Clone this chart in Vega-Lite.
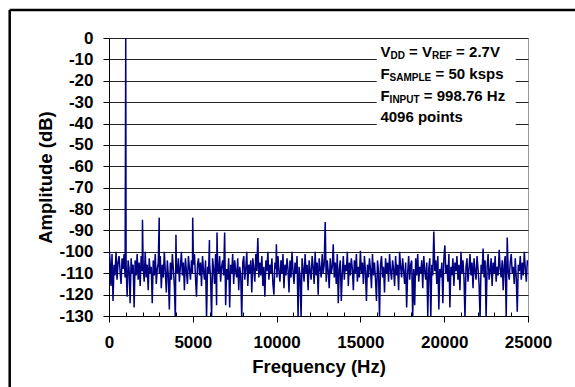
{
  "$schema": "https://vega.github.io/schema/vega-lite/v6.json",
  "width": 419,
  "height": 278,
  "autosize": "none",
  "padding": {"left": 109, "top": 38, "right": 47, "bottom": 71},
  "background": "white",
  "config": {
    "view": {"stroke": "#999999", "strokeWidth": 1},
    "font": "Liberation Sans"
  },
  "layer": [
    {
      "data": {"values": [
        {"f":0,"a":-97},{"f":60,"a":-104},{"f":120,"a":-116},{"f":180,"a":-101},{"f":240,"a":-123},{"f":300,"a":-106},{"f":360,"a":-111},{"f":420,"a":-100},{"f":480,"a":-113},{"f":540,"a":-105},
        {"f":600,"a":-102},{"f":660,"a":-109},{"f":720,"a":-115},{"f":780,"a":-103},{"f":840,"a":-108},{"f":900,"a":-101},{"f":960,"a":-112},{"f":999,"a":0},{"f":1020,"a":-106},{"f":1080,"a":-121},{"f":1140,"a":-104},
        {"f":1200,"a":-108},{"f":1260,"a":-124},{"f":1320,"a":-103},{"f":1380,"a":-110},{"f":1440,"a":-106},{"f":1500,"a":-126},{"f":1560,"a":-104},{"f":1620,"a":-111},{"f":1680,"a":-101},{"f":1740,"a":-113},
        {"f":1800,"a":-105},{"f":1860,"a":-116},{"f":1920,"a":-102},{"f":1980,"a":-109},{"f":1998,"a":-85},{"f":2040,"a":-107},{"f":2100,"a":-114},{"f":2160,"a":-100},{"f":2220,"a":-112},{"f":2280,"a":-106},{"f":2340,"a":-118},
        {"f":2400,"a":-103},{"f":2460,"a":-110},{"f":2520,"a":-107},{"f":2580,"a":-124},{"f":2640,"a":-104},{"f":2700,"a":-111},{"f":2760,"a":-101},{"f":2820,"a":-115},{"f":2880,"a":-108},{"f":2940,"a":-105},{"f":2996,"a":-84},
        {"f":3000,"a":-110},{"f":3060,"a":-102},{"f":3120,"a":-117},{"f":3180,"a":-106},{"f":3240,"a":-112},{"f":3300,"a":-100},{"f":3360,"a":-109},{"f":3420,"a":-119},{"f":3480,"a":-104},{"f":3540,"a":-111},
        {"f":3600,"a":-127},{"f":3660,"a":-105},{"f":3720,"a":-113},{"f":3780,"a":-101},{"f":3840,"a":-108},{"f":3900,"a":-116},{"f":3960,"a":-132},{"f":3995,"a":-92},{"f":4020,"a":-106},{"f":4080,"a":-110},{"f":4140,"a":-103},
        {"f":4200,"a":-114},{"f":4260,"a":-107},{"f":4320,"a":-100},{"f":4380,"a":-111},{"f":4440,"a":-105},{"f":4500,"a":-118},{"f":4560,"a":-103},{"f":4620,"a":-109},{"f":4680,"a":-115},{"f":4740,"a":-102},
        {"f":4800,"a":-108},{"f":4860,"a":-113},{"f":4920,"a":-104},{"f":4980,"a":-110},{"f":4994,"a":-84},{"f":5040,"a":-106},{"f":5100,"a":-101},{"f":5160,"a":-112},{"f":5220,"a":-121},{"f":5280,"a":-106},{"f":5340,"a":-103},
        {"f":5400,"a":-111},{"f":5460,"a":-105},{"f":5520,"a":-116},{"f":5580,"a":-102},{"f":5640,"a":-109},{"f":5700,"a":-113},{"f":5760,"a":-104},{"f":5820,"a":-131},{"f":5880,"a":-107},{"f":5940,"a":-110},{"f":5993,"a":-94.5},
        {"f":6000,"a":-105},{"f":6060,"a":-112},{"f":6120,"a":-131},{"f":6180,"a":-103},{"f":6240,"a":-108},{"f":6300,"a":-115},{"f":6360,"a":-101},{"f":6420,"a":-125},{"f":6444,"a":-91},{"f":6480,"a":-106},{"f":6540,"a":-110},
        {"f":6600,"a":-102},{"f":6660,"a":-114},{"f":6720,"a":-107},{"f":6780,"a":-104},{"f":6840,"a":-111},{"f":6900,"a":-91},{"f":6960,"a":-125},{"f":7020,"a":-108},{"f":7080,"a":-113},{"f":7140,"a":-103},
        {"f":7200,"a":-126},{"f":7260,"a":-106},{"f":7320,"a":-110},{"f":7380,"a":-101},{"f":7440,"a":-115},{"f":7500,"a":-104},{"f":7560,"a":-109},{"f":7620,"a":-112},{"f":7680,"a":-103},{"f":7740,"a":-118},
        {"f":7800,"a":-107},{"f":7860,"a":-111},{"f":7920,"a":-131},{"f":7980,"a":-105},{"f":8040,"a":-102},{"f":8100,"a":-113},{"f":8160,"a":-108},{"f":8220,"a":-100},{"f":8280,"a":-116},{"f":8340,"a":-106},
        {"f":8400,"a":-110},{"f":8460,"a":-104},{"f":8520,"a":-119},{"f":8580,"a":-103},{"f":8640,"a":-108},{"f":8700,"a":-114},{"f":8760,"a":-101},{"f":8820,"a":-109},{"f":8880,"a":-93.5},{"f":8940,"a":-112},
        {"f":9000,"a":-105},{"f":9060,"a":-111},{"f":9120,"a":-102},{"f":9180,"a":-116},{"f":9240,"a":-107},{"f":9300,"a":-121},{"f":9360,"a":-104},{"f":9420,"a":-109},{"f":9480,"a":-100},{"f":9540,"a":-113},
        {"f":9600,"a":-106},{"f":9660,"a":-110},{"f":9720,"a":-103},{"f":9780,"a":-115},{"f":9840,"a":-120},{"f":9900,"a":-105},{"f":9960,"a":-108},{"f":9988,"a":-96.5},{"f":10020,"a":-112},{"f":10080,"a":-102},{"f":10140,"a":-109},
        {"f":10200,"a":-114},{"f":10260,"a":-104},{"f":10320,"a":-110},{"f":10380,"a":-101},{"f":10440,"a":-117},{"f":10500,"a":-106},{"f":10560,"a":-111},{"f":10620,"a":-103},{"f":10680,"a":-108},{"f":10740,"a":-119},
        {"f":10800,"a":-104},{"f":10860,"a":-112},{"f":10920,"a":-100},{"f":10980,"a":-109},{"f":11040,"a":-115},{"f":11100,"a":-105},{"f":11160,"a":-110},{"f":11220,"a":-102},{"f":11280,"a":-131},{"f":11340,"a":-107},
        {"f":11400,"a":-111},{"f":11460,"a":-131},{"f":11520,"a":-103},{"f":11580,"a":-108},{"f":11640,"a":-114},{"f":11700,"a":-101},{"f":11760,"a":-110},{"f":11820,"a":-106},{"f":11880,"a":-118},{"f":11940,"a":-104},
        {"f":12000,"a":-109},{"f":12060,"a":-113},{"f":12120,"a":-102},{"f":12180,"a":-107},{"f":12240,"a":-115},{"f":12300,"a":-100},{"f":12360,"a":-111},{"f":12420,"a":-105},{"f":12480,"a":-120},{"f":12540,"a":-103},
        {"f":12600,"a":-108},{"f":12660,"a":-112},{"f":12720,"a":-101},{"f":12780,"a":-110},{"f":12840,"a":-106},{"f":12900,"a":-86},{"f":12960,"a":-114},{"f":13020,"a":-104},{"f":13080,"a":-109},{"f":13140,"a":-117},
        {"f":13200,"a":-103},{"f":13260,"a":-110},{"f":13320,"a":-107},{"f":13380,"a":-96.5},{"f":13440,"a":-112},{"f":13500,"a":-105},{"f":13560,"a":-115},{"f":13620,"a":-101},{"f":13680,"a":-124},{"f":13740,"a":-108},
        {"f":13800,"a":-104},{"f":13860,"a":-123},{"f":13920,"a":-110},{"f":13980,"a":-102},{"f":14040,"a":-113},{"f":14100,"a":-106},{"f":14160,"a":-109},{"f":14220,"a":-100},{"f":14280,"a":-116},{"f":14340,"a":-105},
        {"f":14400,"a":-111},{"f":14460,"a":-103},{"f":14520,"a":-108},{"f":14580,"a":-118},{"f":14640,"a":-104},{"f":14700,"a":-110},{"f":14760,"a":-101},{"f":14820,"a":-114},{"f":14880,"a":-107},{"f":14940,"a":-112},
        {"f":15000,"a":-99.5},{"f":15060,"a":-110},{"f":15120,"a":-105},{"f":15180,"a":-115},{"f":15240,"a":-102},{"f":15300,"a":-109},{"f":15360,"a":-123},{"f":15420,"a":-106},{"f":15480,"a":-112},{"f":15540,"a":-103},
        {"f":15600,"a":-108},{"f":15660,"a":-117},{"f":15720,"a":-101},{"f":15780,"a":-111},{"f":15840,"a":-105},{"f":15900,"a":-113},{"f":15960,"a":-123},{"f":16020,"a":-104},{"f":16080,"a":-109},{"f":16140,"a":-131},
        {"f":16200,"a":-106},{"f":16260,"a":-102},{"f":16320,"a":-112},{"f":16380,"a":-107},{"f":16440,"a":-119},{"f":16500,"a":-103},{"f":16560,"a":-110},{"f":16620,"a":-105},{"f":16680,"a":-114},{"f":16740,"a":-101},
        {"f":16800,"a":-109},{"f":16860,"a":-113},{"f":16920,"a":-104},{"f":16980,"a":-108},{"f":17040,"a":-116},{"f":17100,"a":-102},{"f":17160,"a":-111},{"f":17220,"a":-106},{"f":17280,"a":-118},{"f":17340,"a":-100},
        {"f":17400,"a":-107},{"f":17460,"a":-112},{"f":17520,"a":-103},{"f":17580,"a":-109},{"f":17640,"a":-115},{"f":17700,"a":-105},{"f":17760,"a":-126},{"f":17820,"a":-110},{"f":17880,"a":-102},{"f":17940,"a":-113},
        {"f":18000,"a":-106},{"f":18060,"a":-104},{"f":18120,"a":-131},{"f":18180,"a":-108},{"f":18240,"a":-125},{"f":18300,"a":-103},{"f":18360,"a":-111},{"f":18420,"a":-101},{"f":18480,"a":-114},{"f":18540,"a":-107},
        {"f":18600,"a":-110},{"f":18660,"a":-104},{"f":18720,"a":-117},{"f":18780,"a":-102},{"f":18840,"a":-109},{"f":18900,"a":-113},{"f":18960,"a":-105},{"f":19020,"a":-130},{"f":19080,"a":-108},{"f":19140,"a":-103},
        {"f":19200,"a":-131},{"f":19260,"a":-106},{"f":19320,"a":-111},{"f":19380,"a":-90.5},{"f":19440,"a":-109},{"f":19500,"a":-104},{"f":19560,"a":-115},{"f":19620,"a":-102},{"f":19680,"a":-127},{"f":19740,"a":-108},
        {"f":19800,"a":-112},{"f":19860,"a":-105},{"f":19920,"a":-124},{"f":19980,"a":-103},{"f":20040,"a":-97},{"f":20100,"a":-110},{"f":20160,"a":-106},{"f":20220,"a":-114},{"f":20280,"a":-101},{"f":20340,"a":-126},
        {"f":20400,"a":-107},{"f":20460,"a":-111},{"f":20520,"a":-103},{"f":20580,"a":-116},{"f":20640,"a":-105},{"f":20700,"a":-109},{"f":20760,"a":-102},{"f":20820,"a":-113},{"f":20880,"a":-106},{"f":20940,"a":-118},
        {"f":21000,"a":-100},{"f":21060,"a":-110},{"f":21120,"a":-104},{"f":21180,"a":-112},{"f":21240,"a":-131},{"f":21300,"a":-107},{"f":21360,"a":-103},{"f":21420,"a":-114},{"f":21480,"a":-108},{"f":21540,"a":-101},
        {"f":21600,"a":-111},{"f":21660,"a":-105},{"f":21720,"a":-117},{"f":21780,"a":-103},{"f":21840,"a":-109},{"f":21900,"a":-113},{"f":21960,"a":-102},{"f":22020,"a":-108},{"f":22080,"a":-115},{"f":22140,"a":-131},
        {"f":22200,"a":-106},{"f":22260,"a":-110},{"f":22320,"a":-98.5},{"f":22380,"a":-112},{"f":22440,"a":-104},{"f":22500,"a":-131},{"f":22560,"a":-107},{"f":22620,"a":-101},{"f":22680,"a":-113},{"f":22740,"a":-109},
        {"f":22800,"a":-103},{"f":22860,"a":-116},{"f":22920,"a":-105},{"f":22980,"a":-110},{"f":23040,"a":-102},{"f":23100,"a":-114},{"f":23160,"a":-107},{"f":23220,"a":-111},{"f":23280,"a":-99},{"f":23340,"a":-108},
        {"f":23400,"a":-112},{"f":23460,"a":-104},{"f":23520,"a":-118},{"f":23580,"a":-106},{"f":23640,"a":-102},{"f":23700,"a":-131},{"f":23760,"a":-93.3},{"f":23820,"a":-109},{"f":23880,"a":-113},{"f":23940,"a":-105},
        {"f":24000,"a":-101},{"f":24060,"a":-110},{"f":24120,"a":-107},{"f":24180,"a":-115},{"f":24240,"a":-103},{"f":24300,"a":-112},{"f":24360,"a":-128},{"f":24420,"a":-106},{"f":24480,"a":-109},{"f":24540,"a":-102},
        {"f":24600,"a":-113},{"f":24660,"a":-105},{"f":24720,"a":-111},{"f":24780,"a":-100},{"f":24840,"a":-108},{"f":24900,"a":-114},{"f":24960,"a":-104},{"f":25000,"a":-106}
      ]},
      "mark": {"type": "line", "color": "#000080", "strokeWidth": 1.5, "clip": true},
      "encoding": {
        "x": {
          "field": "f", "type": "quantitative",
          "scale": {"domain": [0, 25000], "nice": false, "zero": false},
          "title": "Frequency (Hz)",
          "axis": {
            "values": [0,1000,2000,3000,4000,5000,6000,7000,8000,9000,10000,11000,12000,13000,14000,15000,16000,17000,18000,19000,20000,21000,22000,23000,24000,25000],
            "tickCount": 100,
            "labelExpr": "datum.value % 5000 === 0 ? toString(datum.value) : ''",
            "tickSize": {"condition": {"test": "datum.value % 5000 === 0", "value": 6}, "value": -4},
            "grid": false,
            "domainColor": "#000000",
            "tickColor": "#000000",
            "labelColor": "#000000",
            "labelFont": "Liberation Sans",
            "labelFontWeight": "bold",
            "labelFontSize": 17,
            "labelPadding": 12,
            "labelFlush": false,
            "labelOverlap": false,
            "titleFont": "Liberation Sans",
            "titleFontWeight": "bold",
            "titleFontSize": 18.5,
            "titleColor": "#000000",
            "titlePadding": 7
          }
        },
        "y": {
          "field": "a", "type": "quantitative",
          "scale": {"domain": [-130, 0], "nice": false, "zero": false},
          "title": "Amplitude (dB)",
          "axis": {
            "values": [-130,-120,-110,-100,-90,-80,-70,-60,-50,-40,-30,-20,-10,0],
            "tickCount": 100,
            "labelExpr": "toString(datum.value)",
            "labelOverlap": false,
            "tickSize": 6,
            "grid": true,
            "gridColor": "#222222",
            "gridWidth": 1,
            "domainColor": "#000000",
            "tickColor": "#000000",
            "labelColor": "#000000",
            "labelFont": "Liberation Sans",
            "labelFontWeight": "bold",
            "labelFontSize": 17,
            "labelPadding": 10,
            "titleFont": "Liberation Sans",
            "titleFontWeight": "bold",
            "titleFontSize": 18.5,
            "titleColor": "#000000",
            "titlePadding": 3
          }
        }
      }
    },
    {
      "data": {"values": [{}]},
      "mark": {"type": "rule", "stroke": "#000000", "strokeWidth": 2.5, "clip": false},
      "encoding": {
        "x": {"datum": -5925, "type": "quantitative"},
        "y": {"datum": 13.1, "type": "quantitative"},
        "y2": {"datum": -220}
      }
    },
    {
      "data": {"values": [{}]},
      "mark": {"type": "rule", "stroke": "#000000", "strokeWidth": 2.5, "clip": false},
      "encoding": {
        "x": {"datum": -5925, "type": "quantitative"},
        "x2": {"datum": 40000},
        "y": {"datum": 13.1, "type": "quantitative"}
      }
    },
    {
      "data": {"values": [{}]},
      "mark": {"type": "rect", "fill": "white", "strokeWidth": 0},
      "encoding": {
        "x": {"datum": 15974, "type": "quantitative"},
        "x2": {"datum": 24268},
        "y": {"datum": -1.3, "type": "quantitative"},
        "y2": {"datum": -42}
      }
    },
    {
      "data": {"values": [
        {"t": "V", "f": 16194, "a": -8.7},
        {"t": "= V", "f": 17900, "a": -8.7},
        {"t": "= 2.7V", "f": 20711, "a": -8.7},
        {"t": "F", "f": 16194, "a": -19.3},
        {"t": "= 50 ksps", "f": 19482, "a": -19.3},
        {"t": "F", "f": 16194, "a": -29.4},
        {"t": "= 998.76 Hz", "f": 18784, "a": -29.4},
        {"t": "4096 points", "f": 16194, "a": -39.2}
      ]},
      "mark": {"type": "text", "align": "left", "baseline": "alphabetic", "font": "Liberation Sans", "fontWeight": "bold", "fontSize": 15, "color": "#000000"},
      "encoding": {
        "x": {"field": "f", "type": "quantitative"},
        "y": {"field": "a", "type": "quantitative"},
        "text": {"field": "t"}
      }
    },
    {
      "data": {"values": [
        {"t": "DD", "f": 16791, "a": -9.7},
        {"t": "REF", "f": 19267, "a": -9.7},
        {"t": "SAMPLE", "f": 16743, "a": -20.3},
        {"t": "INPUT", "f": 16743, "a": -30.4}
      ]},
      "mark": {"type": "text", "align": "left", "baseline": "alphabetic", "font": "Liberation Sans", "fontWeight": "bold", "fontSize": 10, "color": "#000000"},
      "encoding": {
        "x": {"field": "f", "type": "quantitative"},
        "y": {"field": "a", "type": "quantitative"},
        "text": {"field": "t"}
      }
    }
  ]
}
